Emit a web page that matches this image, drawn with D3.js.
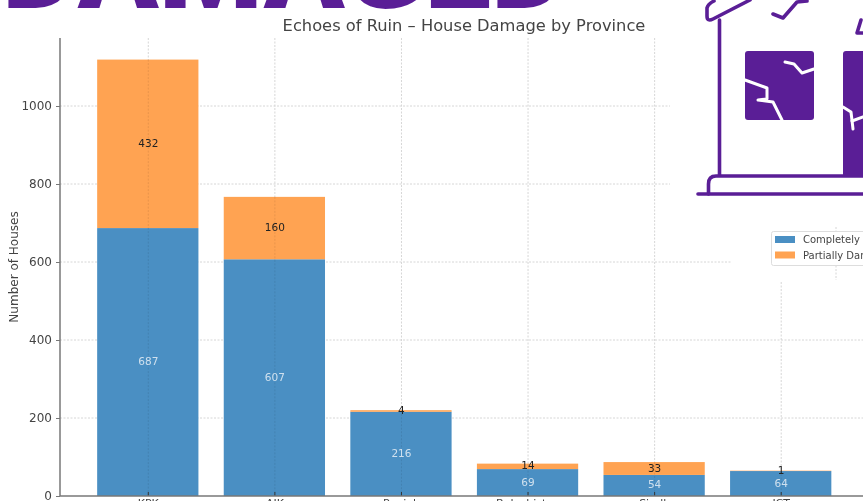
<!DOCTYPE html>
<html><head><meta charset="utf-8">
<script src="https://cdn.jsdelivr.net/npm/d3@7/dist/d3.min.js"></script>
<style>html,body{margin:0;padding:0;background:#fff;overflow:hidden}svg{display:block;filter:blur(.35px)}text{font-family:"DejaVu Sans",sans-serif}</style>
</head><body><svg id="c" width="863" height="501"></svg>
<script>
const provinces=["KPK","AJK","Punjab","Balochistan","Sindh","ICT"];
const completelyDamaged=[687,607,216,69,54,64];
const partiallyDamaged=[432,160,4,14,33,1];
const seriesNames=["Completely Damaged","Partially Damaged"];
const yTicks=[0,200,400,600,800,1000];
const chartTitle="Echoes of Ruin – House Damage by Province";
const yLabel="Number of Houses";
const banner="DAMAGED";

const svg=d3.select("#c");
const blue="#4a8fc3",orange="#ffa352",purple="#5a1e96",ink="#444";
const y=d3.scaleLinear().domain([0,1000]).range([496,106]);
const x=d3.scaleBand().domain(provinces).range([85,844.5]).paddingInner(0.2).paddingOuter(0.1);
const c=p=>x(p)+x.bandwidth()/2;

// grid
const grid=svg.append("g").attr("stroke","#d6d6d6").attr("stroke-width",1).attr("stroke-dasharray","2 1.5");
const gridEndX=d=>d>=800?670:d>=600?732:863;
grid.selectAll(".h").data(yTicks.filter(d=>d>0)).join("line")
 .attr("x1",60).attr("x2",d=>gridEndX(d)).attr("y1",d=>y(d)).attr("y2",d=>y(d));
grid.selectAll(".v").data(provinces).join("line")
 .attr("x1",c).attr("x2",c).attr("y2",496)
 .attr("y1",d=>d==="ICT"?282:38);
grid.append("line").attr("x1",836).attr("x2",836).attr("y1",227).attr("y2",280);

// bars
const rows=provinces.map((p,i)=>({p,a:completelyDamaged[i],b:partiallyDamaged[i]}));
const bars=svg.append("g");
bars.selectAll(".a").data(rows).join("rect").attr("x",d=>x(d.p)-.5).attr("width",x.bandwidth())
 .attr("y",d=>y(d.a)).attr("height",d=>y(0)-y(d.a)).attr("fill",blue);
bars.selectAll(".b").data(rows).join("rect").attr("x",d=>x(d.p)-.5).attr("width",x.bandwidth())
 .attr("y",d=>y(d.a+d.b)).attr("height",d=>y(d.a)-y(d.a+d.b)).attr("fill",orange);
// grid seen through bars
const over=svg.append("g").attr("stroke","#000").attr("stroke-opacity",.09).attr("stroke-dasharray","2 1.5");
over.selectAll("line").data(rows).join("line").attr("x1",d=>c(d.p)).attr("x2",d=>c(d.p))
 .attr("y1",d=>y(d.a+d.b)).attr("y2",496);
over.selectAll(".hb").data(yTicks.filter(d=>d>0)).join("line").attr("x1",60).attr("x2",d=>Math.min(gridEndX(d),200))
 .attr("y1",d=>y(d)).attr("y2",d=>y(d)).attr("stroke-opacity",0);

// labels
const lab=svg.append("g").attr("font-size",10.5).attr("text-anchor","middle");
lab.selectAll(".la").data(rows).join("text").attr("x",d=>c(d.p)).attr("y",d=>y(d.a/2)+3)
 .attr("fill","#cfe0ee").text(d=>d.a);
lab.selectAll(".lb").data(rows).join("text").attr("x",d=>c(d.p)).attr("y",d=>y(d.a+d.b/2)+3)
 .attr("fill","#222").text(d=>d.b);

// axes
const yAxis=d3.axisLeft(y).tickValues(yTicks).tickFormat(d3.format("d")).tickSize(4).tickPadding(4);
const gy=svg.append("g").attr("transform","translate(60,0)").call(yAxis);
gy.select(".domain").remove();
gy.selectAll("line").attr("stroke","#777");
gy.selectAll("text").attr("font-size",12).attr("fill",ink).attr("font-family","DejaVu Sans");
svg.append("line").attr("x1",60).attr("x2",60).attr("y1",38).attr("y2",496).attr("stroke","#777").attr("stroke-width",1.5);
const xAxis=d3.axisBottom(x).tickSize(4).tickPadding(3);
const gx=svg.append("g").attr("transform","translate(0,496)").call(xAxis);
gx.select(".domain").remove();
gx.selectAll("line").attr("stroke","#333").attr("transform","translate(0,-4)");
gx.selectAll("text").attr("font-size",11).attr("fill",ink).attr("font-family","DejaVu Sans").attr("dy",0).attr("y",11);
svg.append("line").attr("x1",60).attr("x2",863).attr("y1",496).attr("y2",496).attr("stroke","#777").attr("stroke-width",1.5);

// titles
svg.append("text").attr("x",464).attr("y",31).attr("text-anchor","middle").attr("font-size",16.3).attr("fill",ink).text(chartTitle);
svg.append("text").attr("transform","translate(18,267) rotate(-90)").attr("text-anchor","middle").attr("font-size",12).attr("fill",ink).text(yLabel);

// legend
const lg=svg.append("g").attr("transform","translate(771,231)");
lg.append("rect").attr("x",.5).attr("y",.5).attr("width",120).attr("height",34).attr("rx",2).attr("fill","#fff").attr("stroke","#ddd");
seriesNames.forEach((n,i)=>{
 lg.append("rect").attr("x",4).attr("y",5+i*15.5).attr("width",20).attr("height",7).attr("fill",[blue,orange][i]);
 lg.append("text").attr("x",32).attr("y",12+i*15.5).attr("font-size",10).attr("fill",ink).text(n);
});

// banner
svg.append("text").attr("x",2).attr("y",8).attr("font-size",118).attr("font-weight",900)
 .attr("fill",purple).attr("textLength",566).attr("lengthAdjust","spacingAndGlyphs")
 .style("font-family","Roboto").text(banner);

// house illustration
const line=d3.line().curve(d3.curveLinear);
const h=svg.append("g").attr("fill","none").attr("stroke",purple).attr("stroke-width",3.6).attr("stroke-linecap","round").attr("stroke-linejoin","round");
h.append("path").attr("d","M750,0 L713,19 Q707,22 707,16 L707,8 Q708,4 714,1");
h.append("path").attr("d","M719.5,20 V175");
h.append("path").attr("d","M863,176 H716 Q708.5,176 708.5,184 V194");
h.append("path").attr("d","M698,194 H863");
h.append("path").attr("d","M773,14 L783,18 L797,2 L807,1");
h.append("path").attr("d","M863,33 L857,33 L861,20");
svg.append("rect").attr("x",745).attr("y",51).attr("width",69).attr("height",69).attr("rx",3).attr("fill",purple);
svg.append("path").attr("d","M846,51 H863 V176 H843 V54 Q843,51 846,51 Z").attr("fill",purple);
const cr=svg.append("g").attr("fill","none").attr("stroke","#fff").attr("stroke-width",3).attr("stroke-linecap","round").attr("stroke-linejoin","round");
[[[785,62],[794,64],[802,73],[814,69]],
 [[745,80],[767,88],[767,99],[758,100],[773,102],[782,120]],
 [[843,107],[851,112],[853,129]],
 [[852,121],[863,117]]].forEach(p=>cr.append("path").attr("d",line(p)));
</script></body></html>
